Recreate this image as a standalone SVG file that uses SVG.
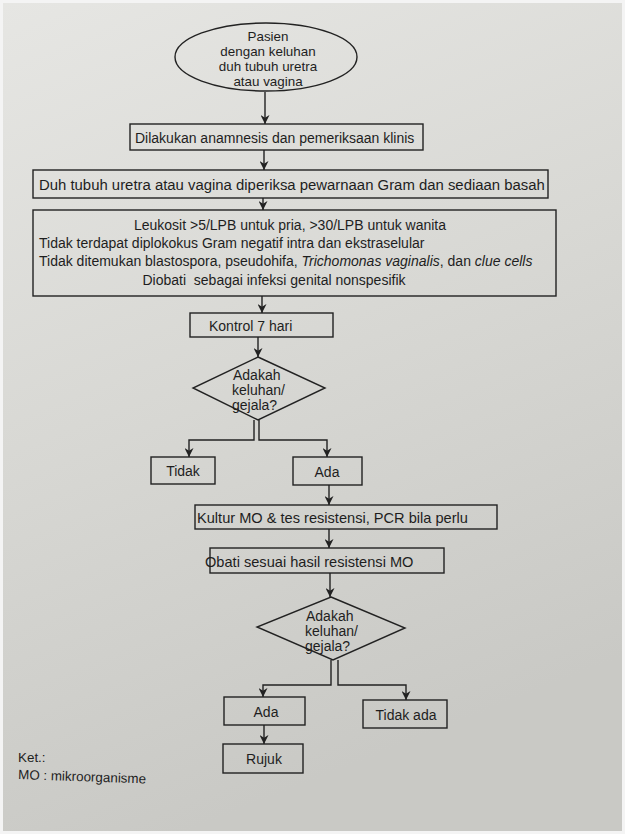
<svg xmlns="http://www.w3.org/2000/svg" width="625" height="834" viewBox="0 0 625 834">
<style>
text{font-family:"Liberation Sans",Arial,sans-serif;fill:#1e1e1e;font-size:14px}
.s{font-size:13.4px}
.l{font-size:14.6px}
.xl{font-size:14.9px}
.b{fill:none;stroke:#222;stroke-width:1.4}
.c{fill:none;stroke:#222;stroke-width:1.4}
.m{text-anchor:middle}
</style>
<defs>
<linearGradient id="bg" x1="0" y1="0" x2="0.3" y2="1">
<stop offset="0" stop-color="#e6e6e3"/>
<stop offset="0.5" stop-color="#d8d8d4"/>
<stop offset="1" stop-color="#c9c9c5"/>
</linearGradient>
<marker id="ah" viewBox="0 0 10 10" refX="10" refY="5" markerWidth="9" markerHeight="9" orient="auto" markerUnits="userSpaceOnUse">
<path d="M0,0 L10,5 L0,10 L3,5 z" fill="#222"/>
</marker>
</defs>
<rect x="0" y="0" width="625" height="834" fill="#f4f4f4"/>
<rect x="3" y="3" width="619" height="828" fill="url(#bg)"/>

<g id="connectors">
<line class="c" x1="265" y1="92" x2="265" y2="124" marker-end="url(#ah)"/>
<line class="c" x1="264" y1="150" x2="264" y2="170" marker-end="url(#ah)"/>
<line class="c" x1="263" y1="198" x2="263" y2="210" marker-end="url(#ah)"/>
<line class="c" x1="262" y1="296" x2="262" y2="313" marker-end="url(#ah)"/>
<line class="c" x1="258" y1="337" x2="258" y2="357" marker-end="url(#ah)"/>
<polyline class="c" points="254,420 254,440 189,440 189,457" marker-end="url(#ah)"/>
<polyline class="c" points="259,420 259,440 327,440 327,457" marker-end="url(#ah)"/>
<line class="c" x1="329" y1="485" x2="329" y2="505" marker-end="url(#ah)"/>
<line class="c" x1="329" y1="529" x2="329" y2="548" marker-end="url(#ah)"/>
<line class="c" x1="330" y1="573" x2="330" y2="597" marker-end="url(#ah)"/>
<polyline class="c" points="331,660 331,685 263,685 263,697" marker-end="url(#ah)"/>
<polyline class="c" points="338,660 338,685 406,685 406,700" marker-end="url(#ah)"/>
<line class="c" x1="264" y1="725" x2="264" y2="744" marker-end="url(#ah)"/>
</g>

<g id="start">
<ellipse class="b" cx="266" cy="57" rx="91" ry="34"/>
<text class="s m" x="268" y="41">Pasien</text>
<text class="s m" x="268" y="56">dengan keluhan</text>
<text class="s m" x="268" y="71">duh tubuh uretra</text>
<text class="s m" x="268" y="86">atau vagina</text>
</g>

<g id="anamnesis">
<rect class="b" x="130" y="124" width="293" height="26"/>
<text x="135" y="143">Dilakukan anamnesis dan pemeriksaan klinis</text>
</g>

<g id="gram">
<rect class="b" x="33" y="170" width="515" height="28"/>
<text class="xl" x="39" y="190">Duh tubuh uretra atau vagina diperiksa pewarnaan Gram dan sediaan basah</text>
</g>

<g id="criteria">
<rect class="b" x="33" y="210" width="523" height="86"/>
<text class="m" x="290" y="230">Leukosit &gt;5/LPB untuk pria, &gt;30/LPB untuk wanita</text>
<text x="39" y="248">Tidak terdapat diplokokus Gram negatif intra dan ekstraselular</text>
<text x="39" y="266">Tidak ditemukan blastospora, pseudohifa, <tspan font-style="italic">Trichomonas vaginalis</tspan>, dan <tspan font-style="italic">clue cells</tspan></text>
<text class="m" x="274" y="285">Diobati&#160; sebagai infeksi genital nonspesifik</text>
</g>

<g id="kontrol">
<rect class="b" x="190" y="313" width="143" height="24"/>
<text x="209" y="331">Kontrol 7 hari</text>
</g>

<g id="decision1">
<polygon class="b" points="258,357 325,388 258,420 193,388"/>
<text x="233" y="380">Adakah</text>
<text x="232" y="395">keluhan/</text>
<text x="232" y="410">gejala?</text>
</g>

<g id="tidak1">
<rect class="b" x="151" y="457" width="64" height="27"/>
<text class="m" x="183" y="476">Tidak</text>
</g>

<g id="ada1">
<rect class="b" x="293" y="457" width="69" height="28"/>
<text class="m" x="327" y="477">Ada</text>
</g>

<g id="kultur">
<rect class="b" x="195" y="505" width="302" height="24"/>
<text class="l" x="197" y="523">Kultur MO &amp; tes resistensi, PCR bila perlu</text>
</g>

<g id="obati">
<rect class="b" x="210" y="548" width="234" height="25"/>
<text class="l" x="205" y="567">Obati sesuai hasil resistensi MO</text>
</g>

<g id="decision2">
<polygon class="b" points="331,597 405,628 333,660 257,627"/>
<text x="306" y="621">Adakah</text>
<text x="305" y="636">keluhan/</text>
<text x="305" y="651">gejala?</text>
</g>

<g id="ada2">
<rect class="b" x="224" y="697" width="81" height="28"/>
<text class="m" x="266" y="717">Ada</text>
</g>

<g id="tidakada">
<rect class="b" x="363" y="700" width="84" height="28"/>
<text class="m" x="406" y="720">Tidak ada</text>
</g>

<g id="rujuk">
<rect class="b" x="223" y="744" width="80" height="29"/>
<text class="m" x="264" y="764">Rujuk</text>
</g>

<g id="legend">
<text class="s" x="18" y="762">Ket.:</text>
<text class="s" x="18" y="779" transform="rotate(2 18 779)">MO : mikroorganisme</text>
</g>
</svg>
